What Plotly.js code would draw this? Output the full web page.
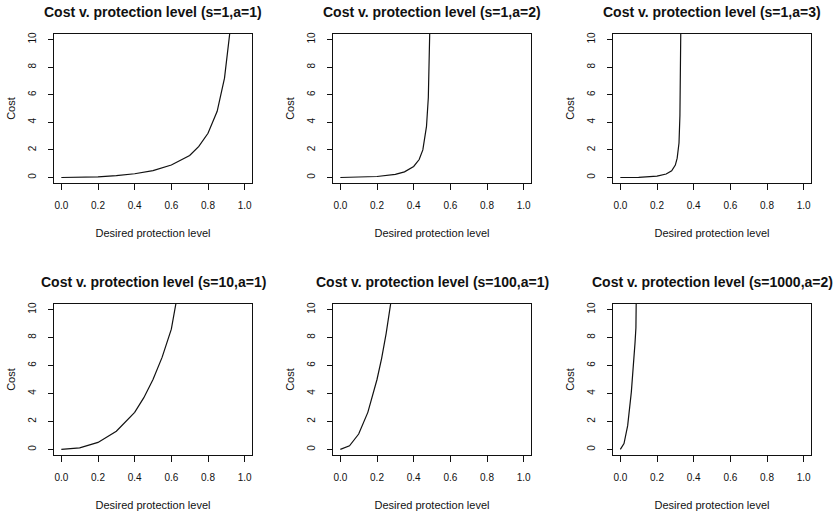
<!DOCTYPE html>
<html>
<head>
<meta charset="utf-8">
<script src="https://cdn.plot.ly/plotly-3.0.1.min.js"></script>
<style>html,body{margin:0;padding:0;background:#fff;}#chart{width:834px;height:514px;}</style>
</head>
<body>
<div id="chart"></div>
<script>
// Panel titles
var panelTitles = [
  "Cost v. protection level (s=1,a=1)",
  "Cost v. protection level (s=1,a=2)",
  "Cost v. protection level (s=1,a=3)",
  "Cost v. protection level (s=10,a=1)",
  "Cost v. protection level (s=100,a=1)",
  "Cost v. protection level (s=1000,a=2)"
];
var xTickVals = [0, 0.2, 0.4, 0.6, 0.8, 1.0];
var xTickText = ["0.0", "0.2", "0.4", "0.6", "0.8", "1.0"];
var yTickVals = [0, 2, 4, 6, 8, 10];
var yTickText = ["0", "2", "4", "6", "8", "10"];
var xLabel = "Desired protection level";
var yLabel = "Cost";

// Curve data (protection level, cost)
var p1x = [0, 0.1, 0.2, 0.3, 0.4, 0.5, 0.6, 0.7, 0.75, 0.8, 0.85, 0.89, 0.92];
var p1y = [0, 0.01, 0.05, 0.13, 0.27, 0.5, 0.9, 1.6, 2.25, 3.2, 4.8, 7.2, 10.6];
var p2x = [0, 0.1, 0.2, 0.3, 0.35, 0.4, 0.43, 0.45, 0.47, 0.48, 0.485, 0.49];
var p2y = [0, 0.01, 0.07, 0.22, 0.41, 0.8, 1.3, 2.0, 3.7, 5.8, 7.8, 12];
var p3x = [0, 0.1, 0.2, 0.25, 0.28, 0.3, 0.31, 0.32, 0.325, 0.33];
var p3y = [0, 0.01, 0.1, 0.25, 0.49, 0.9, 1.4, 2.5, 4.5, 11];
var p4x = [0, 0.1, 0.2, 0.3, 0.4, 0.45, 0.5, 0.55, 0.6, 0.63];
var p4y = [0, 0.11, 0.5, 1.3, 2.65, 3.7, 5.0, 6.6, 8.6, 10.8];
var p5x = [0, 0.05, 0.1, 0.15, 0.2, 0.225, 0.25, 0.28];
var p5y = [0, 0.26, 1.1, 2.65, 5.0, 6.5, 8.3, 10.9];
var p6x = [0, 0.02, 0.04, 0.06, 0.08, 0.085, 0.087];
var p6y = [0, 0.42, 1.7, 4.1, 7.6, 8.7, 11];

var seriesX = [p1x, p2x, p3x, p4x, p5x, p6x];
var seriesY = [p1y, p2y, p3y, p4y, p5y, p6y];

var W = 834, H = 514;
var colLeft = [54, 333, 613], boxW = 198;
var rowTop = [34, 304], rowBottom = [183, 455];
var titleY = [12, 282];
var FONT = "Liberation Sans, Arial, sans-serif";

var data = [];
var layout = {
  width: W, height: H,
  margin: {l: 0, r: 0, t: 0, b: 0},
  paper_bgcolor: "#fff", plot_bgcolor: "#fff",
  showlegend: false,
  font: {family: FONT, color: "#111", size: 10},
  annotations: []
};

for (var i = 0; i < 6; i++) {
  var r = Math.floor(i / 3), c = i % 3;
  var sfx = i === 0 ? "" : String(i + 1);
  data.push({
    x: seriesX[i], y: seriesY[i],
    xaxis: "x" + sfx, yaxis: "y" + sfx,
    type: "scatter", mode: "lines",
    line: {color: "#111", width: 1.2},
    hoverinfo: "skip"
  });
  var xd = [colLeft[c] / W, (colLeft[c] + boxW) / W];
  var yd = [1 - rowBottom[r] / H, 1 - rowTop[r] / H];
  layout["xaxis" + sfx] = {
    domain: xd, anchor: "y" + sfx, range: [-0.04, 1.04],
    tickmode: "array", tickvals: xTickVals, ticktext: xTickText,
    ticks: "outside", ticklen: 6, tickwidth: 1, tickcolor: "#111",
    showline: true, mirror: true, linecolor: "#111", linewidth: 1,
    showgrid: false, zeroline: false,
    tickfont: {family: FONT, size: 10, color: "#111"},
    ticklabelstandoff: 7,
    title: {text: xLabel, font: {family: FONT, size: 11, color: "#111"}, standoff: 19}
  };
  layout["yaxis" + sfx] = {
    domain: yd, anchor: "x" + sfx, range: [-0.4, 10.4],
    tickmode: "array", tickvals: yTickVals, ticktext: yTickText,
    tickangle: -90,
    ticks: "outside", ticklen: 5, tickwidth: 1, tickcolor: "#111",
    showline: true, mirror: true, linecolor: "#111", linewidth: 1,
    showgrid: false, zeroline: false,
    tickfont: {family: FONT, size: 10, color: "#111"},
    ticklabelstandoff: 8,
    title: {text: yLabel, font: {family: FONT, size: 11, color: "#111"}, standoff: 9}
  };
  layout.annotations.push({
    xref: "paper", yref: "paper",
    x: (colLeft[c] + boxW / 2) / W, y: 1 - titleY[r] / H,
    xanchor: "center", yanchor: "middle",
    text: "<b>" + panelTitles[i] + "</b>", showarrow: false,
    font: {family: FONT, size: 14, color: "#111"}
  });
}

Plotly.newPlot("chart", data, layout, {staticPlot: true, displayModeBar: false});
</script>
</body>
</html>
